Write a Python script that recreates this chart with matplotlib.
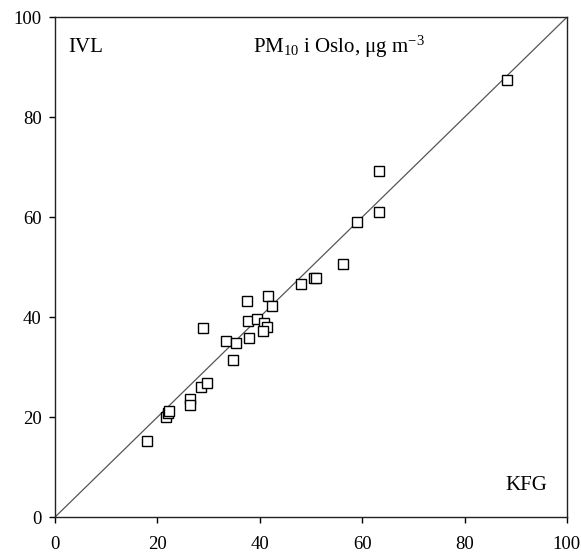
import matplotlib
matplotlib.use("Agg")
import matplotlib.pyplot as plt

# Data (KFG on x, IVL on y)
kfg = [17.9, 21.6, 22.0, 22.2, 26.3, 26.3, 28.6, 29.6, 29.0, 34.8, 33.5, 35.4,
       37.9, 37.5, 41.7, 42.4, 37.7, 39.4, 40.9, 41.4, 40.7, 48.1, 50.5, 50.9,
       56.2, 59.0, 63.2, 63.2, 88.3]
ivl = [15.3, 20.0, 20.8, 21.3, 23.6, 22.4, 26.1, 26.9, 37.9, 31.5, 35.3, 34.9,
       35.8, 43.2, 44.2, 42.2, 39.3, 39.6, 38.9, 38.1, 37.3, 46.7, 47.9, 47.9,
       50.7, 59.0, 61.1, 69.3, 87.4]
line_x = [0, 100]
ticks = [0, 20, 40, 60, 80, 100]

plt.rcParams['font.family'] = ['Liberation Serif', 'DejaVu Serif']
plt.rcParams['mathtext.fontset'] = 'custom'
plt.rcParams['mathtext.rm'] = 'Liberation Serif'
plt.rcParams['mathtext.it'] = 'Liberation Serif:italic'
plt.rcParams['mathtext.bf'] = 'Liberation Serif:bold'

fig = plt.figure(figsize=(5.81, 5.56), dpi=100)
ax = fig.add_axes([0.0947, 0.070, 0.881, 0.899])

ax.plot(line_x, line_x, color='#555555', lw=0.9, zorder=1)
ax.plot(kfg, ivl, linestyle='none', marker='s', markersize=7.5,
        markerfacecolor='white', markeredgecolor='black', markeredgewidth=1.0,
        zorder=2)

ax.set_xlim(0, 100)
ax.set_ylim(0, 100)
ax.set_xticks(ticks)
ax.set_yticks(ticks)
ax.tick_params(direction='out', length=4.5, width=1, labelsize=13.5,
               top=False, right=False)
ax.tick_params(axis='x', pad=9)
ax.tick_params(axis='y', pad=5)
for s in ax.spines.values():
    s.set_linewidth(1.0)
    s.set_color('#222222')

ax.text(2.5, 94, 'IVL', fontsize=15, va='center', ha='left')
ax.text(55.5, 94, r'PM$_{10}$ i Oslo, $\mathrm{\mu}$g m$^{-3}$', fontsize=15,
        va='center', ha='center')
ax.text(92, 6.3, 'KFG', fontsize=15, va='center', ha='center')

fig.savefig('out.png', dpi=100, facecolor='white')
